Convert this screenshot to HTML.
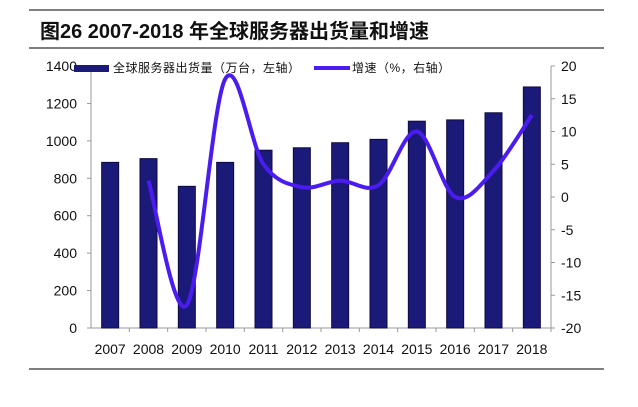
<!DOCTYPE html>
<html><head><meta charset="utf-8"><style>
body{margin:0;width:638px;height:402px;background:#fff;overflow:hidden}
svg text{font-family:"Liberation Sans","Noto Sans CJK SC",sans-serif}
</style></head><body>
<svg id="s" width="638" height="402" xmlns="http://www.w3.org/2000/svg">
<line x1="29" y1="10" x2="604" y2="10" stroke="#555" stroke-width="1.5"/>
<text x="40" y="38" font-size="20" font-weight="bold" fill="#111">图26  2007-2018 年全球服务器出货量和增速</text>
<line x1="29" y1="48" x2="604" y2="48" stroke="#555" stroke-width="1.5"/>
<line x1="29" y1="369" x2="604" y2="369" stroke="#555" stroke-width="1.5"/>
<g id="g"></g>
</svg>
<script>
const g=document.getElementById('g');let h='';
const L=91,R=551,T=66,B=328,cw=(R-L)/12;
h+=`<line x1="${L}" y1="${T}" x2="${L}" y2="${B}" stroke="#999"/>`;
h+=`<line x1="${R}" y1="${T}" x2="${R}" y2="${B}" stroke="#999"/>`;
h+=`<line x1="${L}" y1="${B}" x2="${R}" y2="${B}" stroke="#999"/>`;
for(let i=0;i<=7;i++){const y=B-i*(B-T)/7;
h+=`<line x1="${L-4}" y1="${y}" x2="${L}" y2="${y}" stroke="#999"/>`;
h+=`<text x="${L-14}" y="${y+5}" font-size="14" text-anchor="end" fill="#111">${i*200}</text>`;}
for(let i=0;i<=8;i++){const y=B-i*(B-T)/8;
h+=`<line x1="${R}" y1="${y}" x2="${R+4}" y2="${y}" stroke="#999"/>`;
h+=`<text x="${R+10}" y="${y+5}" font-size="14" fill="#111">${-20+i*5}</text>`;}
const bars=[885,905,757,885,950,963,990,1008,1105,1112,1150,1288];
const yrs=[2007,2008,2009,2010,2011,2012,2013,2014,2015,2016,2017,2018];
for(let i=0;i<12;i++){const cx=L+cw*(i+0.5);const y=B-bars[i]*(B-T)/1400;
h+=`<rect x="${cx-8.5}" y="${y}" width="17" height="${B-y}" fill="#1c1a78" stroke="#0c0a40"/>`;
h+=`<line x1="${L+cw*(i+1)}" y1="${B}" x2="${L+cw*(i+1)}" y2="${B+4}" stroke="#999"/>`;
h+=`<text x="${cx}" y="${B+26}" font-size="14" text-anchor="middle" fill="#111">${yrs[i]}</text>`;}
const gr=[2.5,-16.5,18,5,1.5,2.5,1.8,10,0,4,12.5];
const p=gr.map((v,i)=>[L+cw*(i+1.5),T+(20-v)*(B-T)/40]);
let d=`M${p[0][0]},${p[0][1]}`;
for(let i=0;i<p.length-1;i++){const p0=p[Math.max(i-1,0)],p1=p[i],p2=p[i+1],p3=p[Math.min(i+2,p.length-1)];
d+=` C${p1[0]+(p2[0]-p0[0])/6},${p1[1]+(p2[1]-p0[1])/6} ${p2[0]-(p3[0]-p1[0])/6},${p2[1]-(p3[1]-p1[1])/6} ${p2[0]},${p2[1]}`;}
h+=`<path d="${d}" fill="none" stroke="#4a1cf0" stroke-width="4"/>`;
h+=`<rect x="74" y="65" width="35" height="7" fill="#1c1a78"/>`;
h+=`<text x="113" y="72" font-size="12" fill="#111" letter-spacing="0.5">全球服务器出货量（万台，左轴）</text>`;
h+=`<line x1="314" y1="68" x2="350" y2="68" stroke="#4a1cf0" stroke-width="4"/>`;
h+=`<text x="352" y="72" font-size="12" fill="#111" letter-spacing="0.5">增速（%，右轴）</text>`;
g.innerHTML=h;
</script>
</body></html>
